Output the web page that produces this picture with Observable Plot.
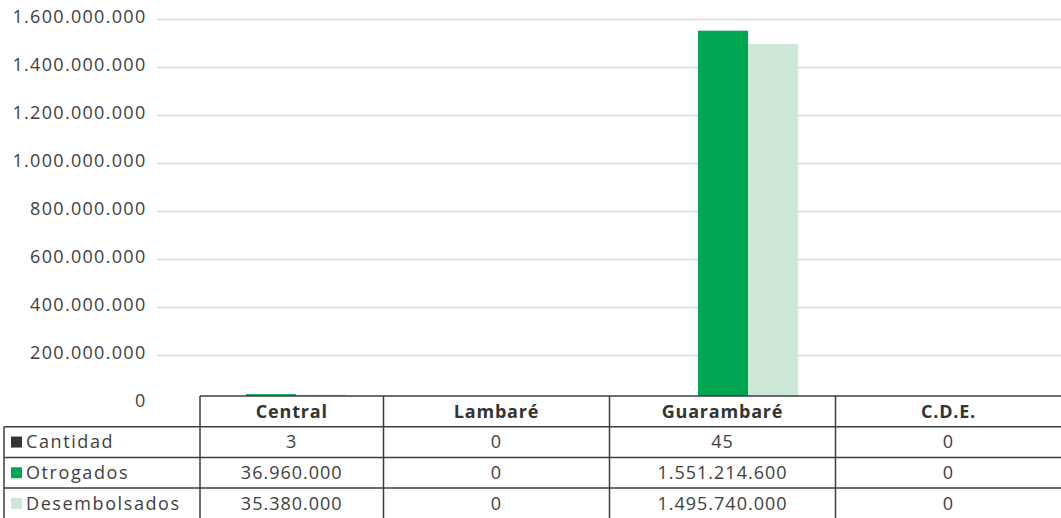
<!DOCTYPE html>
<html>
<head>
<meta charset="utf-8">
<script src="https://cdn.jsdelivr.net/npm/d3@7"></script>
<script src="https://cdn.jsdelivr.net/npm/@observablehq/plot@0.6"></script>
<style>
  body { margin: 0; background: #fff; }
  #wrap { position: relative; width: 1061px; height: 518px; overflow: hidden; font-family: "Open Sans", sans-serif; }
  #wrap > * { position: absolute; left: 0; top: 0; }
  svg text { font-family: "Open Sans", sans-serif; }
</style>
</head>
<body>
<div id="wrap"></div>
<script>
// ---- data ----
const categories = ["Central", "Lambaré", "Guarambaré", "C.D.E."];
const series = ["Cantidad", "Otrogados", "Desembolsados"];
const cantidad = [3, 0, 45, 0];
const otrogados = [36960000, 0, 1551214600, 0];
const desembolsados = [35380000, 0, 1495740000, 0];
const yTicks = [0, 200000000, 400000000, 600000000, 800000000, 1000000000, 1200000000, 1400000000, 1600000000];
const colors = ["#333333", "#00a651", "#cde8d6"];

const values = [cantidad, otrogados, desembolsados];
const rows = [];
series.forEach((s, si) => categories.forEach((c, ci) => rows.push({cat: c, serie: s, value: values[si][ci]})));

const loc = d3.formatLocale({decimal: ",", thousands: ".", grouping: [3], currency: ["", ""]});
const fmt = loc.format(",");

const W = 1061, H = 404;
const common = {
  width: W, height: H, marginTop: 19, marginBottom: 1, marginLeft: 157, marginRight: 0,
  style: {background: "transparent", fontFamily: "Open Sans, sans-serif", fontSize: "18px", color: "#404040", overflow: "visible"}
};

// Layer 1: grid and y axis
const gridPlot = Plot.plot({
  ...common,
  style: {...common.style, letterSpacing: "1.3px"},
  x: {axis: null},
  y: {domain: [0, 1600000000], axis: null},
  marks: [
    Plot.gridY(yTicks.filter(d => d > 0), {stroke: "#d9d9d9", strokeOpacity: 1, strokeWidth: 1.6}),
    Plot.axisY(yTicks, {tickSize: 0, tickPadding: 11, tickFormat: fmt, fill: "#404040", fontSize: 18, dy: -2})
  ]
});

// Layer 2: clustered bars
const barPlot = Plot.plot({
  ...common,
  fx: {domain: categories, paddingInner: 0.332, paddingOuter: 0.166, axis: null},
  x: {domain: series, padding: 0, axis: null},
  y: {domain: [0, 1600000000], axis: null},
  color: {domain: series, range: colors},
  marks: [
    Plot.barY(rows, {fx: "cat", x: "serie", y: "value", fill: "serie", inset: 0})
  ]
});

const wrap = document.getElementById("wrap");
wrap.appendChild(gridPlot);
wrap.appendChild(barPlot);

// Layer 3: data table aligned with the fx scale
const fxs = barPlot.scale("fx");
const bw = fxs.bandwidth;
const step = fxs.step ?? (fxs.apply(categories[1]) - fxs.apply(categories[0]));
const headerX = 200;
const edges = categories.map(c => {
  const l = fxs.apply(c) - (step - bw) / 2;
  return [Math.max(headerX, l), l + step];
});

const top0 = 396, rowH = 30.7;
const svg = d3.select(wrap).append("svg").attr("width", W).attr("height", 518)
  .style("font-family", "Open Sans, sans-serif");
// white backgrounds
svg.append("rect").attr("x", headerX).attr("y", top0).attr("width", W - headerX).attr("height", 518 - top0).attr("fill", "#fff");
svg.append("rect").attr("x", 0).attr("y", top0 + rowH).attr("width", W).attr("height", 518 - top0 - rowH).attr("fill", "#fff");

const lineC = "#3c3c3c", lw = 1.5;
// horizontal lines
svg.append("line").attr("x1", headerX).attr("x2", W + 2).attr("y1", top0).attr("y2", top0).attr("stroke", lineC).attr("stroke-width", lw);
for (let r = 1; r <= 4; r++) {
  const y = top0 + r * rowH;
  svg.append("line").attr("x1", 4).attr("x2", W + 2).attr("y1", y).attr("y2", y).attr("stroke", lineC).attr("stroke-width", lw);
}
// vertical lines
svg.append("line").attr("x1", 4).attr("x2", 4).attr("y1", top0 + rowH).attr("y2", 520).attr("stroke", lineC).attr("stroke-width", lw);
edges.forEach(([l, r]) => {
  svg.append("line").attr("x1", l).attr("x2", l).attr("y1", top0).attr("y2", 520).attr("stroke", lineC).attr("stroke-width", lw);
});

// header texts
categories.forEach((c, i) => {
  const [l, r] = edges[i];
  svg.append("text").attr("x", (l + r) / 2).attr("y", top0 + rowH / 2).attr("dy", "0.35em")
    .attr("text-anchor", "middle").attr("font-size", 18).attr("font-weight", 700)
    .attr("letter-spacing", 0.8).attr("fill", "#333").text(c);
});
// rows
series.forEach((s, si) => {
  const yc = top0 + rowH * (si + 1) + rowH / 2;
  svg.append("rect").attr("x", 11).attr("y", yc - 5.5).attr("width", 11).attr("height", 11).attr("fill", colors[si]);
  svg.append("text").attr("x", 26).attr("y", yc).attr("dy", "0.35em").attr("font-size", 18)
    .attr("letter-spacing", 1.6).attr("fill", "#404040").text(s);
  categories.forEach((c, ci) => {
    const [l, r] = edges[ci];
    svg.append("text").attr("x", (l + r) / 2).attr("y", yc).attr("dy", "0.35em")
      .attr("text-anchor", "middle").attr("font-size", 18).attr("letter-spacing", 1.0)
      .attr("fill", "#404040").text(fmt(values[si][ci]));
  });
});
</script>
</body>
</html>
